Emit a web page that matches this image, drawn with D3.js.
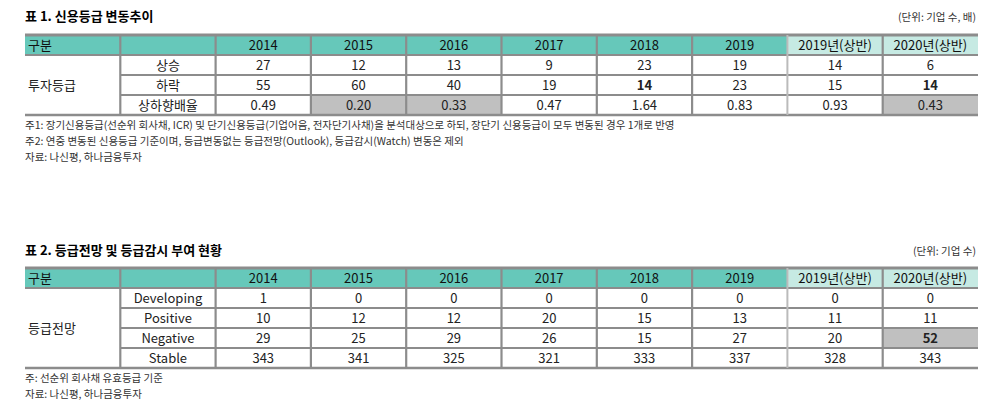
<!DOCTYPE html><html><head><meta charset="utf-8"><script src="https://cdn.jsdelivr.net/npm/d3@7"></script>
<style>body{margin:0;background:#fff}text{font-family:"Noto Sans CJK KR","Noto Sans",sans-serif}</style></head><body>
<svg id="c" width="1000" height="415"></svg>
<script>
const periods=["2014","2015","2016","2017","2018","2019","2019년(상반)","2020년(상반)"];
const t1Rows=["상승","하락","상하향배율"];
const t1Vals=[[27,12,13,9,23,19,14,6],[55,60,40,19,14,23,15,14],["0.49","0.20","0.33","0.47","1.64","0.83","0.93","0.43"]];
const t1Gray=[[2,1],[2,2],[2,7]];
const t1Bold=[[1,4],[1,7]];
const t2Rows=["Developing","Positive","Negative","Stable"];
const t2Vals=[[1,0,0,0,0,0,0,0],[10,12,12,20,15,13,11,11],[29,25,29,26,15,27,20,52],[343,341,325,321,333,337,328,343]];
const t2Gray=[[2,7]];const t2Bold=[[2,7]];
const svg=d3.select("#c");
const cols=["구분",""].concat(periods);
const x=d3.scaleBand().domain(d3.range(cols.length)).range([25,978]);
function table(opt){
  const {title,unit,ty,hy,rh,rows,vals,gray,bold,group,notes,ny}=opt;
  svg.append("text").attr("x",25).attr("y",ty).attr("font-size",13).attr("font-weight","bold").text(title);
  svg.append("text").attr("x",976).attr("y",ty).attr("font-size",10.5).attr("text-anchor","end").attr("fill","#333").text(unit);
  const y=d3.scaleBand().domain(d3.range(rows.length+1)).range([hy,hy+rh*(rows.length+1)]);
  const g=svg.append("g");
  cols.forEach((c,i)=>{
    g.append("rect").attr("x",x(i)).attr("y",y(0)).attr("width",x.bandwidth()).attr("height",y.bandwidth())
     .attr("fill",i>=8?"#c6eae3":"#66c8ba");
    g.append("text").attr("x",i==0?x(i)+3:x(i)+x.bandwidth()/2).attr("y",y(0)+y.bandwidth()/2+5)
     .attr("text-anchor",i==0?"start":"middle").attr("font-size",13).attr("fill","#111").text(c);
  });
  rows.forEach((r,ri)=>{
    g.append("text").attr("x",x(1)+x.bandwidth()/2).attr("y",y(ri+1)+y.bandwidth()/2+5).attr("text-anchor","middle").attr("font-size",13).attr("fill","#222").text(r);
    vals[ri].forEach((v,ci)=>{
      const isG=gray.some(d=>d[0]==ri&&d[1]==ci), isB=bold.some(d=>d[0]==ri&&d[1]==ci);
      if(isG)g.append("rect").attr("x",x(ci+2)).attr("y",y(ri+1)).attr("width",x.bandwidth()).attr("height",y.bandwidth()).attr("fill","#c0c0c0");
      g.append("text").attr("x",x(ci+2)+x.bandwidth()/2).attr("y",y(ri+1)+y.bandwidth()/2+5).attr("text-anchor","middle")
       .attr("font-size",13).attr("font-weight",isB?"bold":"normal").attr("fill","#222").text(v);
    });
  });
  g.append("text").attr("x",28).attr("y",(y(1)+y(rows.length)+y.bandwidth())/2+5).attr("font-size",13).attr("fill","#222").text(group);
  const ln=(x1,y1,x2,y2,w,c)=>g.append("line").attr("x1",x1).attr("y1",y1).attr("x2",x2).attr("y2",y2).attr("stroke",c||"#8c8c8c").attr("stroke-width",w||2);
  const bot=y(rows.length)+y.bandwidth();
  ln(25,y(0),978,y(0),3); ln(25,bot,978,bot,2.5);
  for(let i=1;i<=rows.length;i++) ln(x(1),y(i),978,y(i),2);
  ln(25,y(1),978,y(1),2);
  for(let i=1;i<cols.length;i++) ln(x(i),y(0),x(i),bot,i==8?2:2.2,i==8?"#bbb":"#8c8c8c");
  notes.forEach((n,i)=>svg.append("text").attr("x",25).attr("y",ny+i*16).attr("font-size",10.5).attr("fill","#333").text(n));
}
table({title:"표 1. 신용등급 변동추이",unit:"(단위: 기업 수, 배)",ty:21,hy:35,rh:20,rows:t1Rows,vals:t1Vals,gray:t1Gray,bold:t1Bold,group:"투자등급",
 notes:["주1: 장기신용등급(선순위 회사채, ICR) 및 단기신용등급(기업어음, 전자단기사채)을 분석대상으로 하되, 장단기 신용등급이 모두 변동된 경우 1개로 반영","주2: 연중 변동된 신용등급 기준이며, 등급변동없는 등급전망(Outlook), 등급감시(Watch) 변동은 제외","자료: 나신평, 하나금융투자"],ny:129});
table({title:"표 2. 등급전망 및 등급감시 부여 현황",unit:"(단위: 기업 수)",ty:255,hy:268,rh:20,rows:t2Rows,vals:t2Vals,gray:t2Gray,bold:t2Bold,group:"등급전망",
 notes:["주: 선순위 회사채 유효등급 기준","자료: 나신평, 하나금융투자"],ny:382});
</script></body></html>
